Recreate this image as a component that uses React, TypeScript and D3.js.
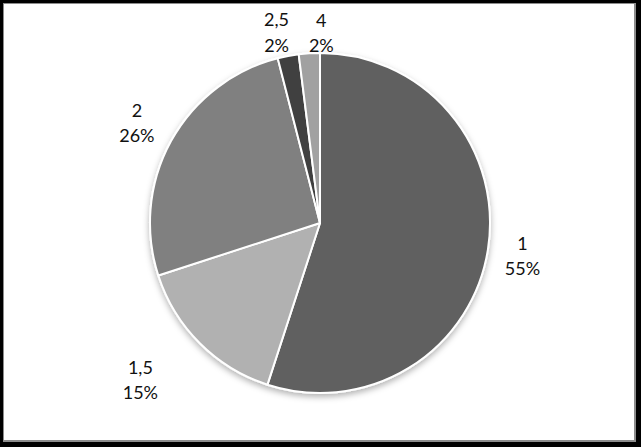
import React from "react";
import * as d3 from "d3";

const W = 641;
const H = 447;

// data
const categories = ["1", "1,5", "2", "2,5", "4"];
const shares = [55, 15, 26, 2, 2];
const sliceColors = ["#606060", "#b1b1b1", "#808080", "#404040", "#a1a1a1"];

// label placement (distance from center, extra angle nudge in degrees)
const labelRadius = [205, 238, 209, 196, 191];
const labelNudge = [0, 4, 0, -2, 4];

const CX = 320;
const CY = 223;
const R = 170;

export default function App() {
  const pie = d3
    .pie<number>()
    .sort(null)
    .value((d) => d);
  const arcs = pie(shares);

  const arc = d3.arc<d3.PieArcDatum<number>>().innerRadius(0).outerRadius(R);

  const fmt = (v: number) => `${Math.round(v)}%`;
  const total = d3.sum(shares);

  return (
    <div style={{ position: "fixed", left: 0, top: 0 }}>
      <svg width={W} height={H} style={{ display: "block" }}>
        <defs>
          <filter id="shadow" x="-20%" y="-20%" width="140%" height="140%">
            <feDropShadow dx="0" dy="3" stdDeviation="3" floodColor="#000" floodOpacity="0.3" />
          </filter>
        </defs>
        {/* frame */}
        <rect x={0} y={0} width={W} height={H} fill="#000" />
        <rect x={3} y={3} width={W - 8} height={H - 8} fill="#8c8c8c" />
        <rect x={4} y={4} width={W - 11} height={H - 11} fill="#fff" />

        <g transform={`translate(${CX},${CY})`}>
          <g filter="url(#shadow)">
            {arcs.map((a, i) => (
              <path
                key={categories[i]}
                d={arc(a) ?? ""}
                fill={sliceColors[i]}
                stroke="#fff"
                strokeWidth={2}
                strokeLinejoin="round"
              />
            ))}
          </g>
          <g fontFamily="Lato, 'Open Sans', sans-serif" fontSize={18} fill="#111" textAnchor="middle">
            {arcs.map((a, i) => {
              const ang = (a.startAngle + a.endAngle) / 2 + (labelNudge[i] * Math.PI) / 180;
              const x = Math.sin(ang) * labelRadius[i];
              const y = -Math.cos(ang) * labelRadius[i];
              return (
                <text key={categories[i]} x={x} y={y}>
                  <tspan x={x} dy="-0.3em">
                    {categories[i]}
                  </tspan>
                  <tspan x={x} dy="1.4em">
                    {fmt((a.data / total) * 100)}
                  </tspan>
                </text>
              );
            })}
          </g>
        </g>
      </svg>
    </div>
  );
}
